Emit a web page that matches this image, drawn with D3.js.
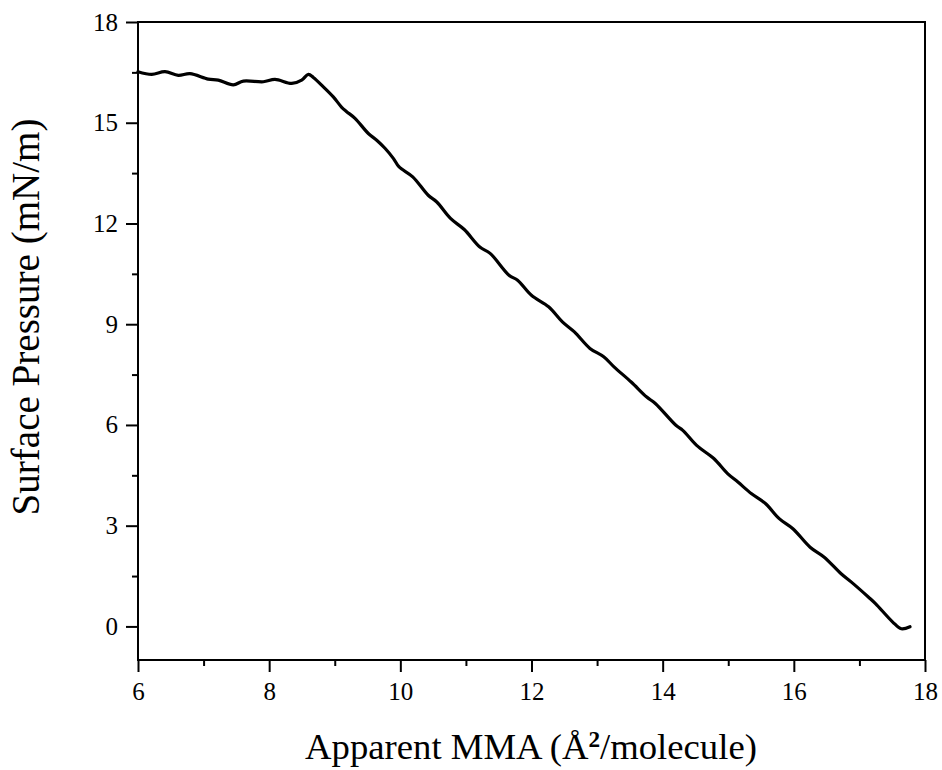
<!DOCTYPE html>
<html>
<head>
<meta charset="utf-8">
<script src="https://cdn.jsdelivr.net/npm/d3@7"></script>
<style>
  html, body { margin: 0; padding: 0; background: #fff; }
  svg { display: block; }
  text { font-family: "Liberation Serif", "DejaVu Serif", serif; fill: #000; }
</style>
</head>
<body>
<svg id="chart" width="942" height="770"></svg>
<script>
// Isotherm: apparent mean molecular area (Å²/molecule) vs surface pressure (mN/m)
const mma = [
  6.000, 6.209, 6.412, 6.614, 6.793, 7.072, 7.224, 7.453, 7.606, 7.911,
  8.089, 8.344, 8.496, 8.597, 8.673, 8.826, 8.978, 9.106, 9.182, 9.309,
  9.512, 9.640, 9.766, 9.893, 9.978, 10.189, 10.425, 10.556, 10.765, 10.975,
  11.212, 11.369, 11.657, 11.788, 11.999, 12.261, 12.471, 12.654, 12.891, 13.101,
  13.258, 13.520, 13.757, 13.888, 14.202, 14.307, 14.518, 14.780, 14.990, 15.147,
  15.356, 15.567, 15.777, 15.986, 16.248, 16.459, 16.721, 16.878, 17.140, 17.245,
  17.508, 17.639, 17.771
];
const pressure = [
  16.52, 16.44, 16.52, 16.41, 16.46, 16.30, 16.27, 16.13, 16.24, 16.22,
  16.29, 16.17, 16.27, 16.44, 16.35, 16.07, 15.77, 15.46, 15.33, 15.13,
  14.68, 14.48, 14.24, 13.94, 13.69, 13.39, 12.84, 12.64, 12.15, 11.82,
  11.30, 11.11, 10.46, 10.31, 9.86, 9.52, 9.07, 8.77, 8.28, 8.03,
  7.73, 7.28, 6.83, 6.64, 5.99, 5.84, 5.39, 5.00, 4.55, 4.30,
  3.95, 3.66, 3.21, 2.91, 2.36, 2.07, 1.57, 1.32, 0.87, 0.68,
  0.13, -0.07, -0.01
];
const xMajorTicks = [6, 8, 10, 12, 14, 16, 18];
const xMinorTicks = [7, 9, 11, 13, 15, 17];
const yMajorTicks = [0, 3, 6, 9, 12, 15, 18];
const yMinorTicks = [1.5, 4.5, 7.5, 10.5, 13.5, 16.5];
const xTitle = "Apparent MMA (Å";
const xTitleSup = "2";
const xTitleEnd = "/molecule)";
const yTitle = "Surface Pressure (mN/m)";

const svg = d3.select("#chart");
const plotL = 138, plotR = 925, plotT = 22, plotB = 660;

const x = d3.scaleLinear().domain([6, 18]).range([plotL, plotR]);
const y = d3.scaleLinear().domain([-1, 18]).range([plotB, plotT]);

// Frame
svg.append("rect")
  .attr("x", plotL).attr("y", plotT)
  .attr("width", plotR - plotL).attr("height", plotB - plotT)
  .attr("fill", "none").attr("stroke", "#000").attr("stroke-width", 2);

function styleAxis(g) {
  g.select(".domain").remove();
  g.selectAll(".tick line").attr("stroke", "#000").attr("stroke-width", 2);
}

// Bottom axis
svg.append("g").attr("transform", `translate(0,${plotB})`)
  .call(d3.axisBottom(x).tickValues(xMajorTicks).tickSize(12).tickPadding(10).tickFormat(d3.format("d")))
  .call(styleAxis)
  .call(g => g.selectAll("text").attr("font-size", 25).attr("font-family", "Liberation Serif"));
svg.append("g").attr("transform", `translate(0,${plotB})`)
  .call(d3.axisBottom(x).tickValues(xMinorTicks).tickSize(6).tickFormat(""))
  .call(styleAxis);

// Left axis
svg.append("g").attr("transform", `translate(${plotL},0)`)
  .call(d3.axisLeft(y).tickValues(yMajorTicks).tickSize(12).tickPadding(8).tickFormat(d3.format("d")))
  .call(styleAxis)
  .call(g => g.selectAll("text").attr("font-size", 25).attr("font-family", "Liberation Serif"));
svg.append("g").attr("transform", `translate(${plotL},0)`)
  .call(d3.axisLeft(y).tickValues(yMinorTicks).tickSize(6).tickFormat(""))
  .call(styleAxis);

// Isotherm curve
const pts = mma.map((m, i) => [m, pressure[i]]);
svg.append("path")
  .datum(pts)
  .attr("fill", "none")
  .attr("stroke", "#000")
  .attr("stroke-width", 3.2)
  .attr("stroke-linejoin", "round")
  .attr("stroke-linecap", "round")
  .attr("d", d3.line().x(d => x(d[0])).y(d => y(d[1])).curve(d3.curveCatmullRom.alpha(0.5)));

// Axis titles
const xt = svg.append("text")
  .attr("x", (305 + 757) / 2).attr("y", 759)
  .attr("text-anchor", "middle")
  .attr("font-size", 30);
xt.append("tspan").text(xTitle);
const supSpan = xt.append("tspan").text(xTitleSup).attr("font-size", 19).attr("font-weight", "bold").attr("dy", -12);
xt.append("tspan").text(xTitleEnd).attr("dy", 12);
// scale the title so it spans the same width as the axis label block
{
  const w = xt.node().getComputedTextLength();
  const k = 452 / w;
  xt.attr("font-size", 30 * k);
  supSpan.attr("font-size", 19 * k);
}

const yt = svg.append("text")
  .attr("transform", `translate(39,317) rotate(-90)`)
  .attr("text-anchor", "middle")
  .attr("font-size", 30)
  .text(yTitle);
{
  const w = yt.node().getComputedTextLength();
  yt.attr("font-size", 30 * 397 / w);
}
</script>
</body>
</html>
